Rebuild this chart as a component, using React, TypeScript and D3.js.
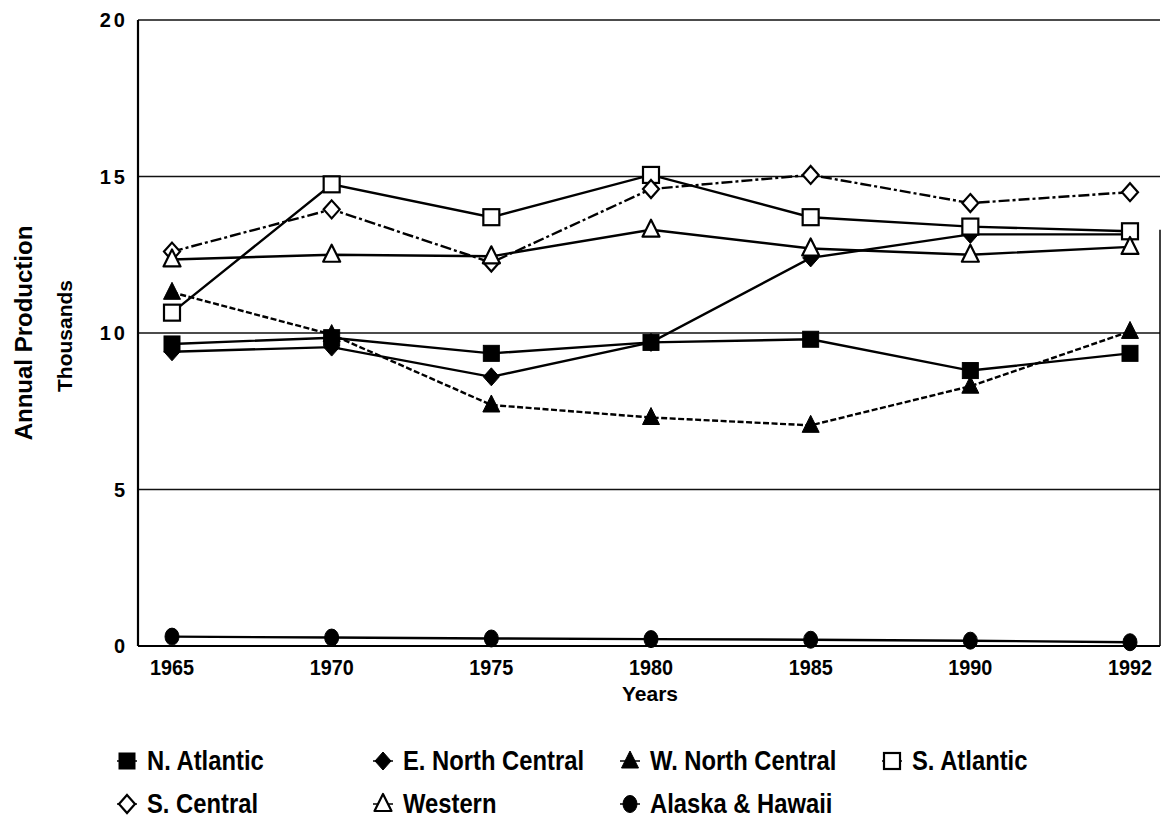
import React, { useEffect, useRef } from "react";
import * as d3 from "d3";

// years on the x axis
const years = ["1965", "1970", "1975", "1980", "1985", "1990", "1992"];
const yTicks = [0, 5, 10, 15, 20];

// series values (thousands)
const nAtlantic = [9.65, 9.85, 9.35, 9.7, 9.8, 8.8, 9.35];
const eNorthCentral = [9.4, 9.55, 8.6, 9.7, 12.4, 13.15, 13.15];
const wNorthCentral = [11.3, 9.95, 7.7, 7.3, 7.05, 8.3, 10.05];
const sAtlantic = [10.65, 14.75, 13.7, 15.05, 13.7, 13.4, 13.25];
const sCentral = [12.6, 13.95, 12.25, 14.6, 15.05, 14.15, 14.5];
const western = [12.35, 12.5, 12.45, 13.3, 12.7, 12.5, 12.75];
const alaskaHawaii = [0.3, 0.27, 0.24, 0.22, 0.2, 0.17, 0.12];

const seriesNames = [
  "N. Atlantic",
  "E. North Central",
  "W. North Central",
  "S. Atlantic",
  "S. Central",
  "Western",
  "Alaska & Hawaii",
];
const seriesValues = [nAtlantic, eNorthCentral, wNorthCentral, sAtlantic, sCentral, western, alaskaHawaii];
const seriesMarkers = ["squareFill", "diamondFill", "triangleFill", "squareOpen", "diamondOpen", "triangleOpen", "circleFill"];
const seriesDash = [null, null, "6,2.5", null, "11,3,3,3", null, null];

const App = () => {
  const ref = useRef<SVGSVGElement>(null);

  useEffect(() => {
    const width = 1162;
    const height = 821;
    const margin = { top: 20, left: 138, right: 1160, bottom: 646 };

    const svg = d3.select(ref.current);
    svg.selectAll("*").remove();

    const x = d3.scalePoint().domain(years).range([172, 1130]);
    const y = d3.scaleLinear().domain([0, 20]).range([margin.bottom, margin.top]);

    const font = "'Liberation Sans', Arial, Helvetica, sans-serif";

    svg.append("rect").attr("width", width).attr("height", height).attr("fill", "white");

    // horizontal text squeezed a bit, like the condensed face of the scan
    const label = (g: any, tx: number, ty: number, str: string, size: number, sx: number, anchor = "start") =>
      g
        .append("text")
        .attr("transform", `translate(${tx},${ty}) scale(${sx},1)`)
        .attr("text-anchor", anchor)
        .attr("font-family", font)
        .attr("font-weight", "bold")
        .attr("font-size", size)
        .text(str);

    // gridlines
    svg
      .append("g")
      .selectAll("line")
      .data(yTicks.filter((d) => d > 0))
      .join("line")
      .attr("x1", margin.left)
      .attr("x2", margin.right)
      .attr("y1", (d) => y(d))
      .attr("y2", (d) => y(d))
      .attr("stroke", "#111")
      .attr("stroke-width", 1.5);

    // axis frame
    svg
      .append("line")
      .attr("x1", margin.left)
      .attr("x2", margin.left)
      .attr("y1", margin.top)
      .attr("y2", margin.bottom)
      .attr("stroke", "#000")
      .attr("stroke-width", 2.2);
    svg
      .append("line")
      .attr("x1", margin.left)
      .attr("x2", margin.right)
      .attr("y1", margin.bottom)
      .attr("y2", margin.bottom)
      .attr("stroke", "#000")
      .attr("stroke-width", 2.2);
    svg
      .append("line")
      .attr("x1", margin.right)
      .attr("x2", margin.right)
      .attr("y1", y(13.3))
      .attr("y2", margin.bottom)
      .attr("stroke", "#000")
      .attr("stroke-width", 1.5);

    // y tick labels
    svg
      .append("g")
      .selectAll("text")
      .data(yTicks)
      .join("text")
      .attr("x", 128)
      .attr("y", (d) => y(d) + 7)
      .attr("text-anchor", "end")
      .attr("font-family", font)
      .attr("font-weight", "bold")
      .attr("font-size", 20)
      .attr("letter-spacing", 3)
      .text((d) => d);

    // x tick labels
    const xt = svg.append("g");
    years.forEach((yr) => label(xt, x(yr)!, 675, yr, 22, 0.9, "middle"));

    label(svg, 650, 701, "Years", 21, 1, "middle");

    svg
      .append("text")
      .attr("transform", "translate(32,333) rotate(-90)")
      .attr("text-anchor", "middle")
      .attr("font-family", font)
      .attr("font-weight", "bold")
      .attr("font-size", 24)
      .text("Annual Production");
    svg
      .append("text")
      .attr("transform", "translate(72,336) rotate(-90)")
      .attr("text-anchor", "middle")
      .attr("font-family", font)
      .attr("font-weight", "bold")
      .attr("font-size", 21)
      .text("Thousands");

    const drawMarker = (g: any, kind: string, cx: number, cy: number) => {
      const open = kind.endsWith("Open");
      const fill = open ? "white" : "black";
      const sw = open ? 2.2 : 1;
      if (kind.startsWith("square")) {
        g.append("rect")
          .attr("x", cx - 8)
          .attr("y", cy - 8)
          .attr("width", 16)
          .attr("height", 16)
          .attr("fill", fill)
          .attr("stroke", "black")
          .attr("stroke-width", sw);
      } else if (kind.startsWith("diamond")) {
        g.append("path")
          .attr("d", `M${cx},${cy - 9}L${cx + 8},${cy}L${cx},${cy + 9}L${cx - 8},${cy}Z`)
          .attr("fill", fill)
          .attr("stroke", "black")
          .attr("stroke-width", sw);
      } else if (kind.startsWith("triangle")) {
        g.append("path")
          .attr("d", `M${cx},${cy - 10}L${cx + 8.5},${cy + 7}L${cx - 8.5},${cy + 7}Z`)
          .attr("fill", fill)
          .attr("stroke", "black")
          .attr("stroke-width", sw)
          .attr("stroke-linejoin", "round");
      } else {
        g.append("ellipse")
          .attr("cx", cx)
          .attr("cy", cy)
          .attr("rx", 7)
          .attr("ry", 8.5)
          .attr("fill", fill)
          .attr("stroke", "black");
      }
    };

    const line = d3
      .line<number>()
      .x((_, i) => x(years[i])!)
      .y((d) => y(d));

    // lines first, then markers on top
    seriesValues.forEach((vals, si) => {
      svg
        .append("path")
        .datum(vals)
        .attr("d", line)
        .attr("fill", "none")
        .attr("stroke", "black")
        .attr("stroke-width", 2.4)
        .attr("stroke-dasharray", seriesDash[si]);
    });
    seriesValues.forEach((vals, si) => {
      const g = svg.append("g");
      vals.forEach((v, i) => drawMarker(g, seriesMarkers[si], x(years[i])!, y(v)));
    });

    // legend: two rows, four columns
    const legendCols = [127, 383, 630, 892];
    const legendRows = [770, 813];
    seriesNames.forEach((name, si) => {
      const lx = legendCols[si % 4];
      const ly = legendRows[Math.floor(si / 4)];
      const g = svg.append("g");
      g.append("line")
        .attr("x1", lx - 10)
        .attr("x2", lx + 10)
        .attr("y1", ly - 9)
        .attr("y2", ly - 9)
        .attr("stroke", "black")
        .attr("stroke-width", 1.5);
      drawMarker(g, seriesMarkers[si], lx, ly - 9);
      label(g, lx + 20, ly, name, 28, 0.85);
    });
  }, []);

  return (
    <svg
      ref={ref}
      width={1162}
      height={821}
      style={{ position: "absolute", left: 0, top: 0, display: "block" }}
    />
  );
};

export default App;
